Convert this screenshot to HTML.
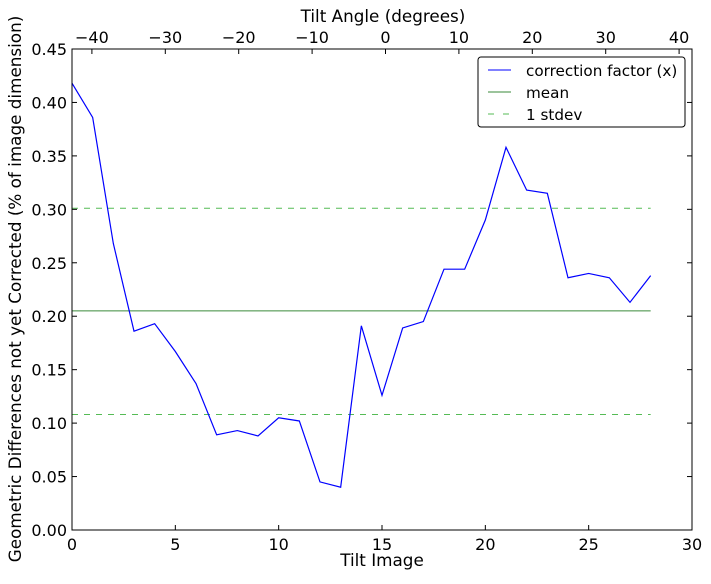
<!DOCTYPE html>
<html><head><meta charset="utf-8"><style>
body{margin:0;background:#fff;}
svg text{font-family:"DejaVu Sans","Liberation Sans",sans-serif;fill:#000;}
</style></head><body>
<svg id="c" width="711" height="579" xmlns="http://www.w3.org/2000/svg"></svg>
<script>
const tiltImages=[0,1,2,3,4,5,6,7,8,9,10,11,12,13,14,15,16,17,18,19,20,21,22,23,24,25,26,27,28];
const correction=[0.418,0.386,0.268,0.186,0.193,0.167,0.137,0.089,0.093,0.088,0.105,0.102,0.045,0.040,0.191,0.126,0.189,0.195,0.244,0.244,0.290,0.358,0.318,0.315,0.236,0.240,0.236,0.213,0.238];
const meanVal=0.205;
const stdevVals=[0.301,0.108];
const xTicks=[0,5,10,15,20,25,30];
const yTicks=[0,0.05,0.10,0.15,0.20,0.25,0.30,0.35,0.40,0.45];
const yTickLabels=["0.00","0.05","0.10","0.15","0.20","0.25","0.30","0.35","0.40","0.45"];
const topTicks=[-40,-30,-20,-10,0,10,20,30,40];
const topLabels=["\u221240","\u221230","\u221220","\u221210","0","10","20","30","40"];
const L=72,R=692,T=49,B=530;
const X=v=>L+(v/30)*(R-L);
const Y=v=>B-(v/0.45)*(B-T);
const XT=a=>385.5+a*7.34;
const NS="http://www.w3.org/2000/svg";
const svg=document.getElementById('c');
function mk(tag,attrs,parent){const e=document.createElementNS(NS,tag);for(const k in attrs)e.setAttribute(k,attrs[k]);(parent||svg).appendChild(e);return e;}
function txt(x,y,s,anchor,size){const t=mk('text',{x:x,y:y,'text-anchor':anchor,'font-size':size||16});t.textContent=s;return t;}
const m=mk('line',{x1:X(0),x2:X(28),y1:Y(meanVal),y2:Y(meanVal),stroke:'#3a8a3a','stroke-width':1});


stdevVals.forEach(v=>{const s=mk('line',{x1:X(0),x2:X(28),y1:Y(v),y2:Y(v),stroke:'#55bb55','stroke-width':1,'stroke-dasharray':'6,6'});

});
const p=mk('polyline',{points:tiltImages.map((t,i)=>X(t)+','+Y(correction[i])).join(' '),fill:'none',stroke:'#0000ff','stroke-width':1.2});


const f=mk('rect',{x:L,y:T,width:R-L,height:B-T,fill:'none',stroke:'#000','stroke-width':1});


xTicks.forEach(v=>{mk('line',{x1:X(v),x2:X(v),y1:B,y2:B-5,stroke:'#000'});
const t=txt(X(v),B+20,String(v),'middle');});
yTicks.forEach((v,i)=>{mk('line',{x1:L,x2:L+5,y1:Y(v),y2:Y(v),stroke:'#000'});mk('line',{x1:R,x2:R-5,y1:Y(v),y2:Y(v),stroke:'#000'});
const t=txt(L-5,Y(v)+6,yTickLabels[i],'end');});
topTicks.forEach((v,i)=>{mk('line',{x1:XT(v),x2:XT(v),y1:T,y2:T+5,stroke:'#000'});
const t=txt(XT(v),T-6,topLabels[i],'middle');});
let t=txt((L+R)/2,566,'Tilt Image','middle',16.8);
t=txt(383,22,'Tilt Angle (degrees)','middle',16.8);
t=txt(0,0,'Geometric Differences not yet Corrected (% of image dimension)','middle',16.8);t.setAttribute('transform','translate(21,289) rotate(-90)');
const g=mk('g',{});
mk('rect',{x:478,y:57,width:207,height:70,rx:3,fill:'#fff',stroke:'#000'},g);
mk('line',{x1:488,x2:511,y1:70,y2:70,stroke:'#0000ff'},g);
mk('line',{x1:488,x2:511,y1:92,y2:92,stroke:'#3a8a3a'},g);
mk('line',{x1:488,x2:511,y1:114,y2:114,stroke:'#55bb55','stroke-dasharray':'6,9'},g);
[['correction factor (x)',76],['mean',98],['1 stdev',120]].forEach(a=>{const e=mk('text',{x:526,y:a[1],'font-size':15.2},g);e.textContent=a[0];});
</script>
</body></html>
